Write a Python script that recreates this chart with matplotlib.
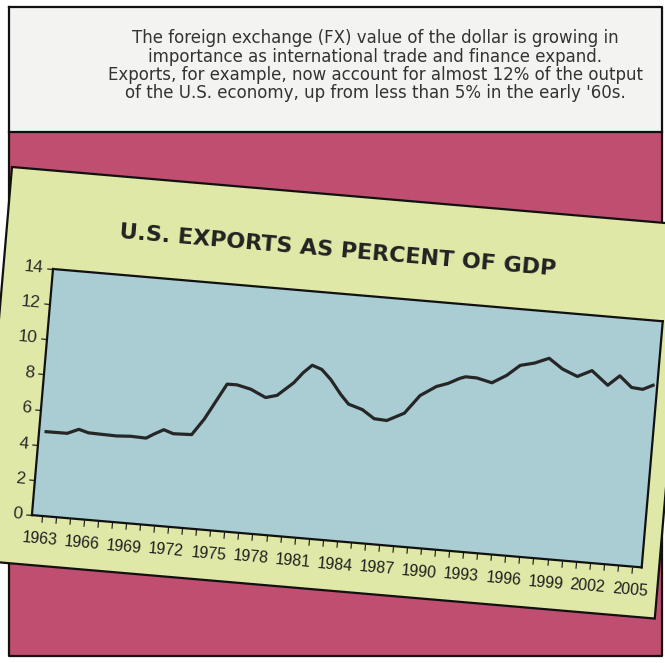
import numpy as np
import matplotlib
matplotlib.use("Agg")
import matplotlib.pyplot as plt
from matplotlib.patches import Polygon, Rectangle
from matplotlib.transforms import Affine2D
import mpl_toolkits.axisartist.floating_axes as floating_axes
from mpl_toolkits.axisartist.grid_finder import FixedLocator, DictFormatter

# U.S. exports as percent of GDP
years = [1962.8, 1964.3, 1965.1, 1965.8, 1966.7, 1967.8, 1968.8, 1969.9, 1970.4,
         1971.1, 1971.8, 1973.1, 1973.9, 1974.5, 1975.3, 1976.0, 1977.0, 1978.1,
         1978.9, 1980.0, 1980.6, 1981.2, 1981.9, 1982.6, 1983.4, 1984.0, 1985.0,
         1985.9, 1986.8, 1988.0, 1989.0, 1990.1, 1990.9, 1991.7, 1992.1, 1992.9,
         1994.0, 1995.0, 1995.9, 1996.9, 1997.9, 1998.9, 2000.0, 2001.0, 2002.2,
         2003.0, 2003.9, 2004.7, 2005.4]
export_pct = [4.78, 4.79, 5.07, 4.92, 4.90, 4.88, 4.93, 4.90, 5.15,
              5.46, 5.28, 5.32, 6.26, 7.15, 8.34, 8.35, 8.17, 7.77,
              7.95, 8.74, 9.35, 9.82, 9.63, 9.10, 8.30, 7.80, 7.56,
              7.10, 7.06, 7.56, 8.63, 9.22, 9.45, 9.79, 9.91, 9.90,
              9.70, 10.19, 10.82, 11.02, 11.36, 10.82, 10.47, 10.87, 10.12,
              10.71, 10.11, 10.06, 10.34]

tick_years = list(range(1963, 2006))
label_years = list(range(1963, 2006, 3))
yticks = [0, 2, 4, 6, 8, 10, 12, 14]

header_lines = [
    "The foreign exchange (FX) value of the dollar is growing in",
    "importance as international trade and finance expand.",
    "Exports, for example, now account for almost 12% of the output",
    "of the U.S. economy, up from less than 5% in the early '60s.",
]
title = "U.S. EXPORTS AS PERCENT OF GDP"

W, H = 665, 663
tilt = 4.9
a = np.radians(tilt)

fig = plt.figure(figsize=(W / 100, H / 100), dpi=100)
fig.patch.set_facecolor("white")

# page background in pixel coordinates
bg = fig.add_axes([0, 0, 1, 1])
bg.set_xlim(0, W)
bg.set_ylim(H, 0)
bg.axis("off")

bg.add_patch(Rectangle((9, 7), 653, 125, fc="#f3f3f1", ec="none", zorder=1))
bg.add_patch(Rectangle((9, 132), 653, 524, fc="#bf4e70", ec="none", zorder=1))
bg.plot([9, 662, 662, 9, 9], [7, 7, 656, 656, 7], color="#111111", lw=1.6, zorder=2)
bg.plot([9, 662], [132, 132], color="#111111", lw=1.6, zorder=2)

# tilted card behind the chart
u = np.array([np.cos(a), np.sin(a)])
v = np.array([-np.sin(a), np.cos(a)])
tl = np.array([12.0, 167.0])
card_w, card_h = 679, 395
card = [tl, tl + card_w * u, tl + card_w * u + card_h * v, tl + card_h * v]
bg.add_patch(Polygon(card, closed=True, fc="#dfe8a6", ec="#111111", lw=1.6, zorder=3))

# rotated chart axes
x0, x1 = 1962.3, 2005.7
plot_w, plot_h = 612.0, 247.0
sx = plot_w / (x1 - x0)
sy = plot_h / 14.0
tr = Affine2D().scale(sx, sy).rotate_deg(-tilt)

gh = floating_axes.GridHelperCurveLinear(
    tr, extremes=(x0, x1, 0, 14),
    grid_locator1=FixedLocator(tick_years),
    tick_formatter1=DictFormatter({y: str(y) for y in label_years}),
    grid_locator2=FixedLocator(yticks),
    tick_formatter2=DictFormatter({t: str(t) for t in yticks}))

bw = plot_w * np.cos(a) + plot_h * np.sin(a)
bh = plot_w * np.sin(a) + plot_h * np.cos(a)
tlx, tly = 53.0, 269.0
cx = tlx - plot_h * np.sin(a) + bw / 2
cy = tly + bh / 2
ew, eh = bw * 1.02, bh * 1.02
rect = [(cx - ew / 2) / W, (H - (cy + eh / 2)) / H, ew / W, eh / H]

ax = fig.add_axes(rect, axes_class=floating_axes.FloatingAxes, grid_helper=gh)
ax.patch.set_facecolor("#a9cdd3")

for side in ["top", "right"]:
    ax.axis[side].toggle(ticks=False, ticklabels=False)
for side in ["top", "right", "bottom", "left"]:
    ax.axis[side].line.set_linewidth(1.6)
    ax.axis[side].line.set_color("#111111")

for side in ["bottom", "left"]:
    ax.axis[side].major_ticks.set_tick_out(True)
    ax.axis[side].major_ticks.set_ticksize(4.5)
    ax.axis[side].major_ticks.set_linewidth(1.2)
    ax.axis[side].major_ticks.set_color("#111111")

ax.axis["bottom"].major_ticklabels.set(fontsize=11.5, color="#1e1e1e",
                                       family="Liberation Sans")
ax.axis["bottom"].major_ticklabels.set_pad(7)
ax.axis["left"].major_ticklabels.set(fontsize=12.5, color="#2a2a2a", family="Liberation Sans")
ax.axis["left"].major_ticklabels.set_pad(2.5)

aux = ax.get_aux_axes(tr)
aux.plot(years, export_pct, color="#262626", lw=2.3, solid_joinstyle="round")

fig.text(338 / W, 1 - 251 / H, title, rotation=-tilt, rotation_mode="anchor",
         ha="center", va="center", fontsize=16, fontweight="bold", color="#222222")

for i, line in enumerate(header_lines):
    fig.text(375 / W, 1 - (38 + 18.5 * i) / H, line, ha="center", va="center",
             fontsize=12, color="#333333")

plt.savefig("out.png", dpi=100)
plt.close()
